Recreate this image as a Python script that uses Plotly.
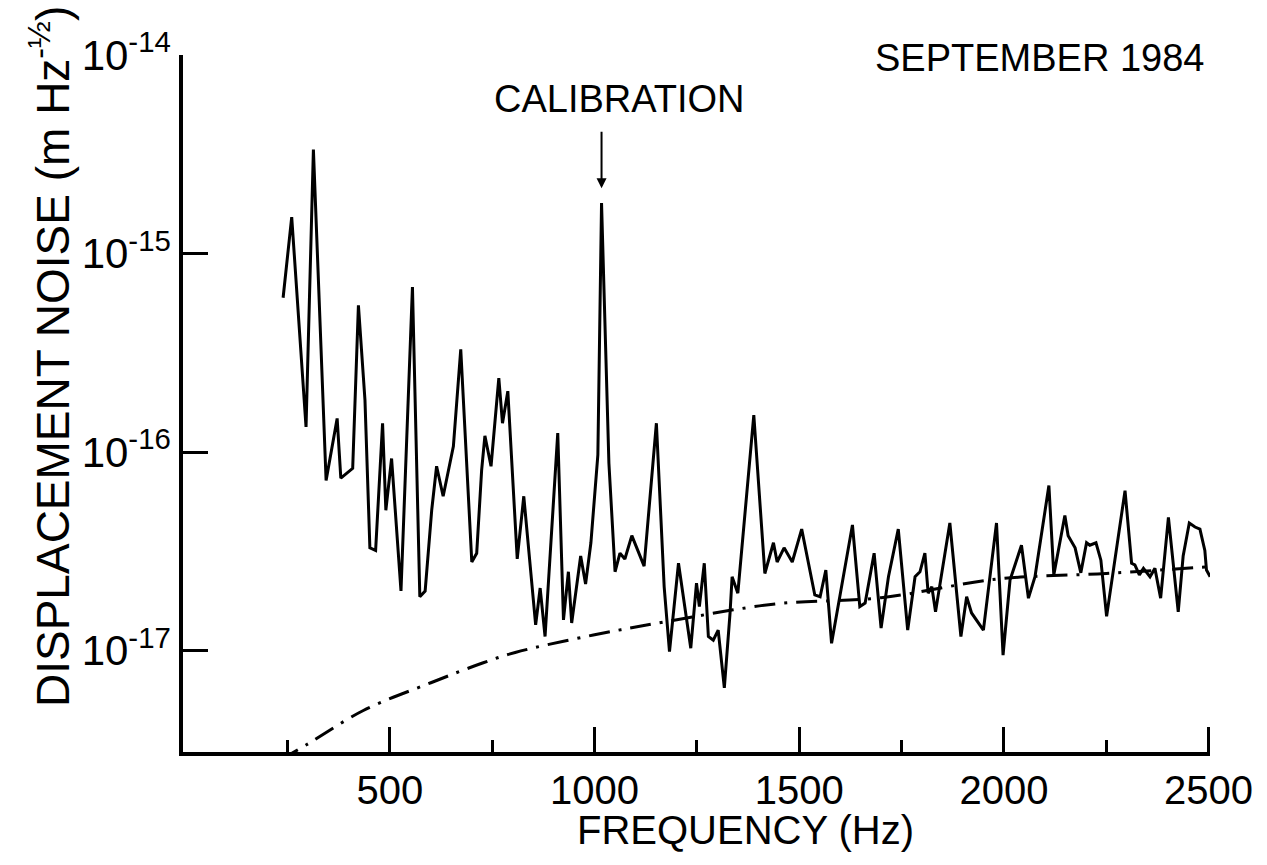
import plotly.graph_objects as go

# Espectro de ruido (Hz, m Hz^-1/2)
freq = [239, 260, 295, 313, 344, 371, 380, 409, 423, 439, 451, 465, 482, 490, 504, 527, 555, 573, 586, 602,
        614, 630, 655, 673, 700, 712, 724, 732, 747, 766, 775, 788, 811, 827, 856, 867, 879, 910, 924, 936,
        944, 966, 978, 991, 1008, 1017, 1035, 1050, 1062, 1074, 1091, 1121, 1151, 1170, 1183, 1205, 1235, 1249, 1256, 1268,
        1278, 1290, 1302, 1317, 1331, 1336, 1350, 1389, 1416, 1437, 1446, 1463, 1483, 1506, 1538, 1551, 1565, 1579, 1630, 1648,
        1661, 1683, 1700, 1718, 1742, 1765, 1783, 1795, 1807, 1815, 1824, 1833, 1868, 1895, 1909, 1921, 1950, 1982, 1998, 2015,
        2043, 2060, 2076, 2110, 2122, 2149, 2157, 2174, 2188, 2202, 2210, 2225, 2237, 2251, 2296, 2312, 2320, 2331, 2341, 2357,
        2369, 2383, 2402, 2426, 2438, 2453, 2467, 2479, 2491, 2495, 2504]
noise = [6.0e-16, 1.53e-15, 1.34e-16, 3.35e-15, 7.2e-17, 1.48e-16, 7.4e-17, 8.3e-17, 5.5e-16, 1.83e-16,
         3.3e-17, 3.2e-17, 1.40e-16, 5.1e-17, 9.3e-17, 2.0e-17, 6.8e-16, 1.87e-17, 2.0e-17, 5.1e-17,
         8.5e-17, 6.0e-17, 1.07e-16, 3.3e-16, 2.8e-17, 3.1e-17, 8.1e-17, 1.21e-16, 8.5e-17, 2.36e-16,
         1.40e-16, 2.03e-16, 2.9e-17, 6.0e-17, 1.35e-17, 2.07e-17, 1.18e-17, 1.25e-16, 1.43e-17, 2.5e-17,
         1.38e-17, 3.0e-17, 2.17e-17, 3.5e-17, 9.7e-17, 1.8e-15, 8.8e-17, 2.5e-17, 3.1e-17, 2.9e-17,
         3.8e-17, 2.67e-17, 1.40e-16, 2.1e-17, 9.9e-18, 2.76e-17, 1.03e-17, 2.19e-17, 1.67e-17, 2.76e-17,
         1.18e-17, 1.13e-17, 1.27e-17, 6.5e-18, 1.55e-17, 2.36e-17, 1.95e-17, 1.54e-16, 2.45e-17, 3.5e-17,
         2.8e-17, 3.3e-17, 2.8e-17, 4.1e-17, 1.91e-17, 1.87e-17, 2.55e-17, 1.09e-17, 4.3e-17, 1.67e-17,
         1.74e-17, 3.1e-17, 1.30e-17, 2.36e-17, 4.1e-17, 1.27e-17, 2.36e-17, 2.5e-17, 3.1e-17, 1.95e-17,
         2.1e-17, 1.57e-17, 4.4e-17, 1.18e-17, 1.87e-17, 1.55e-17, 1.27e-17, 4.4e-17, 9.5e-18, 2.27e-17,
         3.4e-17, 1.84e-17, 2.36e-17, 6.8e-17, 2.41e-17, 4.8e-17, 3.8e-17, 3.3e-17, 2.47e-17, 3.5e-17,
         3.4e-17, 3.5e-17, 2.86e-17, 1.49e-17, 6.4e-17, 2.76e-17, 2.71e-17, 2.41e-17, 2.6e-17, 2.36e-17,
         2.6e-17, 1.84e-17, 4.7e-17, 1.57e-17, 3.0e-17, 4.4e-17, 4.2e-17, 4.1e-17, 3.2e-17, 2.55e-17, 2.36e-17]

# Curva punto-raya
fit_freq = [230, 300, 435, 600, 728, 806, 997, 1173, 1441, 1700, 1986, 2250, 2500]
fit_noise = [2.8e-18, 3.4e-18, 5.0e-18, 6.9e-18, 8.7e-18, 9.8e-18, 1.2e-17, 1.4e-17, 1.72e-17, 1.85e-17, 2.3e-17, 2.45e-17, 2.65e-17]

y_tickvals = [1e-17, 1e-16, 1e-15, 1e-14]
y_ticktext = ["10<sup>-17</sup>", "10<sup>-16</sup>", "10<sup>-15</sup>", "10<sup>-14</sup>"]
x_tickvals = [500, 1000, 1500, 2000, 2500]
x_ticktext = ["500", "1000", "1500", "2000", "2500"]

# Area de trazado en pixeles
L, R, T, B = 183, 1210, 55, 752
W, H = 1267, 865
def px(x):
    return (x - L) / (R - L)
def py(y):
    return (B - y) / (B - T)

FONT = "Liberation Sans, Arial, sans-serif"

fig = go.Figure()
fig.add_trace(go.Scatter(x=freq, y=noise, mode="lines",
                         line=dict(color="black", width=3), showlegend=False))
fig.add_trace(go.Scatter(x=fit_freq, y=fit_noise, mode="lines",
                         line=dict(color="black", width=3, dash="21px,9px,3px,9px", shape="spline"),
                         showlegend=False))

fig.update_layout(
    width=W, height=H,
    margin=dict(l=L, r=W - R, t=T, b=H - B, pad=0),
    paper_bgcolor="white", plot_bgcolor="white",
    font=dict(family=FONT, color="black"),
    xaxis=dict(range=[-5.6, 2503.6], showgrid=False, zeroline=False,
               showline=True, linecolor="black", linewidth=3.5,
               tickmode="array", tickvals=x_tickvals, ticktext=x_ticktext,
               ticks="inside", ticklen=25, tickwidth=2.5, tickcolor="black",
               tickfont=dict(size=40), ticklabelstandoff=0,
               minor=dict(tick0=250, dtick=500, ticks="inside", ticklen=12,
                          tickwidth=2.5, tickcolor="black", showgrid=False)),
    yaxis=dict(type="log", range=[-17.51, -13.999], showgrid=False, zeroline=False,
               showline=True, linecolor="black", linewidth=3.5,
               tickmode="array", tickvals=y_tickvals, ticktext=y_ticktext,
               ticks="inside", ticklen=25, tickwidth=2.5, tickcolor="black",
               tickfont=dict(size=42), ticklabelstandoff=0),
)

# Flecha de calibracion
fig.add_annotation(x=1017, y=-14.67, xref="x", yref="y", text="", showarrow=True,
                   ax=0, ay=-58, axref="pixel", ayref="pixel",
                   arrowhead=2, arrowsize=1, arrowwidth=2, arrowcolor="black", standoff=0)

fig.add_annotation(x=px(619.5), y=py(99), xref="paper", yref="paper", text="CALIBRATION",
                   showarrow=False, xanchor="center", yanchor="middle", font=dict(size=38))
fig.add_annotation(x=px(1039.5), y=py(58), xref="paper", yref="paper", text="SEPTEMBER 1984",
                   showarrow=False, xanchor="center", yanchor="middle", font=dict(size=38))
fig.add_annotation(x=px(745), y=py(830), xref="paper", yref="paper", text="FREQUENCY (Hz)",
                   showarrow=False, xanchor="center", yanchor="middle", font=dict(size=40))
fig.add_annotation(x=px(50), y=py(357), xref="paper", yref="paper",
                   text="DISPLACEMENT NOISE (m Hz<sup>-½</sup>)", textangle=-90,
                   showarrow=False, xanchor="center", yanchor="middle", font=dict(size=46))

fig.write_html("out.html", config={"displayModeBar": False},
               post_script="document.body.style.margin='0px';")
